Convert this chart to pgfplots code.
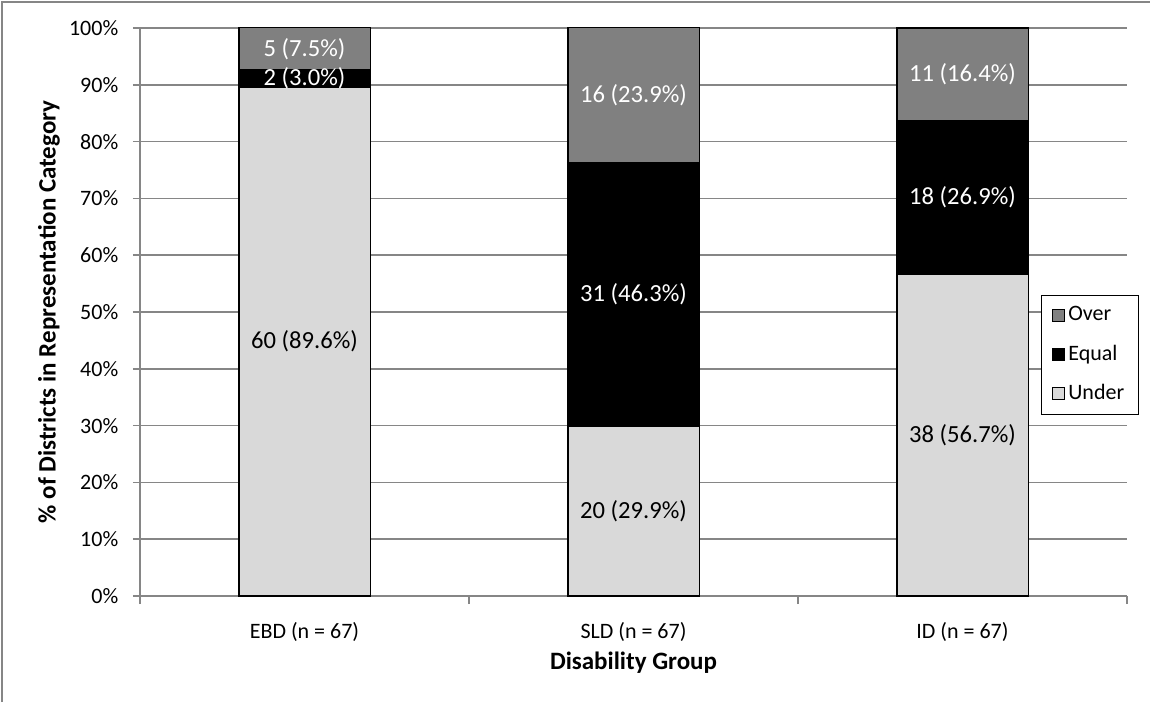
\documentclass[border=0pt]{standalone}
\usepackage{pgfplots}
\pgfplotsset{compat=1.18}
\usepackage{pgfplotstable}
\usepackage{fontspec}
\setmainfont{Carlito}

\definecolor{overgray}{HTML}{808080}
\definecolor{undergray}{HTML}{D9D9D9}
\definecolor{gridgray}{HTML}{868686}

% share of districts per representation category (count and percent)
\pgfplotstableread[col sep=comma]{
x,under,ulab,equal,elab,over,olab
0,89.6,60 (89.6\%),3.0,2 (3.0\%),7.5,5 (7.5\%)
1,29.9,20 (29.9\%),46.3,31 (46.3\%),23.9,16 (23.9\%)
2,56.7,38 (56.7\%),26.9,18 (26.9\%),16.4,11 (16.4\%)
}\datatable

\pgfplotsset{
  plotbox/.style={
    at={(70pt,53pt)}, anchor=south west,
    scale only axis,
    width=493.5pt, height=284pt,
    xmin=-0.5, xmax=2.5,
    ymin=0, ymax=100,
  },
}

\begin{document}
\fontsize{11}{13.2}\selectfont
\begin{tikzpicture}
\useasboundingbox (0,0) rectangle (575pt,351pt);
\draw[gridgray, line width=0.8pt] (1pt,0) -- (1pt,350pt) -- (575pt,350pt);
\begin{axis}[
  plotbox,
  ybar stacked,
  bar width=0.4,
  clip=false,
  xtick={0,1,2},
  xticklabels={EBD (n = 67), SLD (n = 67), ID (n = 67)},
  minor xtick={-0.5,0.5,1.5,2.5},
  major x tick style={draw=none},
  minor x tick style={draw=gridgray, line width=0.8pt},
  minor tick length=4pt,
  ytick={0,10,...,100},
  yticklabel={\pgfmathprintnumber{\tick}\%},
  /pgf/number format/assume math mode=true,
  major tick length=3.5pt,
  tick align=outside,
  ytick style={draw=gridgray, line width=0.8pt},
  axis x line*=bottom, axis y line*=left,
  axis line style={draw=gridgray, line width=0.8pt, -},
  ymajorgrids,
  grid style={draw=gridgray, line width=0.8pt},
  yticklabel style={xshift=-3.5pt},
  xticklabel style={yshift=-6pt},
  xlabel={\textbf{Disability Group}},
  xlabel style={at={(axis description cs:0.5,-0.118)}, anchor=center,
    font=\fontsize{12.5}{15}\selectfont},
  ylabel={\textbf{\% of Districts in Representation Category}},
  ylabel style={at={(axis description cs:-0.0922,0.5)}, anchor=center,
    font=\fontsize{12.5}{15}\selectfont},
  legend style={at={(axis description cs:0.9129,0.530)}, anchor=north west,
    draw=black, line width=0.5pt, row sep=6.5pt, inner xsep=5pt, inner ysep=3.5pt,
    font=\fontsize{11}{13.2}\selectfont},
  legend cell align=left,
  reverse legend,
  legend image code/.code={\draw[#1, draw=black, line width=0.4pt] (0pt,-3pt) rectangle (6pt,3pt);},
]
\addplot[fill=undergray, draw=black, line width=0.8pt]
  table[x=x, y=under] {\datatable};
\addlegendentry{Under}
\addplot[fill=black, draw=black, line width=0.8pt]
  table[x=x, y=equal] {\datatable};
\addlegendentry{Equal}
\addplot[fill=overgray, draw=black, line width=0.8pt]
  table[x=x, y=over] {\datatable};
\addlegendentry{Over}
\end{axis}

% segment labels, centred in each stacked segment
\begin{axis}[
  plotbox,
  hide axis,
  clip=false,
  point meta=explicit symbolic,
  nodes near coords,
  every node near coord/.append style={anchor=center, inner sep=0pt,
    font=\fontsize{12.3}{14.5}\selectfont},
]
\addplot[draw=none, mark=none, nodes near coords style={text=black}]
  table[x=x, y expr={\thisrow{under}/2}, meta=ulab] {\datatable};
\addplot[draw=none, mark=none, nodes near coords style={text=white}]
  table[x=x, y expr={\thisrow{under}+\thisrow{equal}/2}, meta=elab] {\datatable};
\addplot[draw=none, mark=none, nodes near coords style={text=white}]
  table[x=x, y expr={\thisrow{under}+\thisrow{equal}+\thisrow{over}/2}, meta=olab] {\datatable};
\end{axis}
\end{tikzpicture}
\end{document}
